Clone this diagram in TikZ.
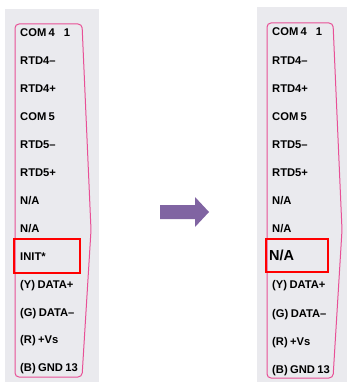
\documentclass[tikz,border=0pt]{standalone}
\usepackage{fontspec}
\setmainfont{Liberation Sans}
\definecolor{panelgray}{RGB}{234,234,238}
\definecolor{pinkline}{RGB}{232,80,150}
\definecolor{arrowpurple}{RGB}{128,100,162}
\newcommand{\tightsp}{\spaceskip=2.4pt plus 1pt\relax}
\begin{document}
\begin{tikzpicture}[x=1pt,y=-1pt,
  lbl/.style={anchor=base west,inner sep=0pt,font=\fontsize{11.2}{12}\selectfont\bfseries\tightsp},
  biglbl/.style={anchor=base west,inner sep=0pt,font=\fontsize{14.5}{16}\selectfont\bfseries},
  panel/.style={fill=panelgray,draw=none},
  outline/.style={draw=pinkline,line width=1pt,rounded corners=4pt},
  redbox/.style={draw=red,line width=2.8pt},
  bigarrow/.style={fill=arrowpurple,draw=none}]
\useasboundingbox (0,0) rectangle (347,382);
% panels
\fill[panel] (5,9) rectangle (99,382);
\fill[panel] (257,7) rectangle (347,382);
% outlines
\draw[outline] (15,377) -- (15,24) -- (82,24) -- (91,230) -- (82,377) -- cycle;
\draw[outline] (267,378) -- (267,23) -- (333,23) -- (342,230) -- (333,378) -- cycle;
% left labels
\foreach \t [count=\i from 0] in {{COM 4\hspace{9pt}1},RTD4–,RTD4+,COM 5,RTD5–,RTD5+,N/A,N/A,INIT*,(Y) DATA+,(G) DATA–,(R) +Vs,(B) GND 13}{
  \node[lbl] (l\i) at (20,{33+27.9*\i+4}) {\t};
}
% right labels
\foreach \t [count=\i from 0] in {{COM 4\hspace{9pt}1},RTD4–,RTD4+,COM 5,RTD5–,RTD5+,N/A,N/A}{
  \node[lbl] (r\i) at (272,{32+28.1*\i+4}) {\t};
}
\node[biglbl] (r8) at (269,{255+5.2}) {N/A};
\foreach \t [count=\i from 9] in {(Y) DATA+,(G) DATA–,(R) +Vs,(B) GND 13}{
  \node[lbl] (r\i) at (272,{32+28.1*\i+4}) {\t};
}
% red boxes
\draw[redbox] (14,239) rectangle (80,273);
\draw[redbox] (266,239) rectangle (328,272);
% arrow
\fill[bigarrow] (160,205) -- (195,205) -- (195,197) -- (209,212) -- (195,227) -- (195,219) -- (160,219) -- cycle;
\end{tikzpicture}
\end{document}
